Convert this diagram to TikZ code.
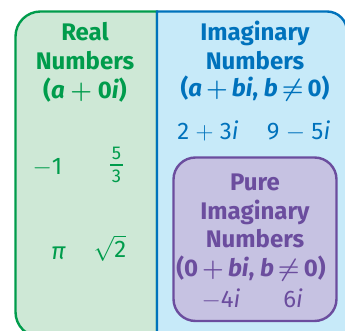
\documentclass[tikz,border=0pt]{standalone}
\usepackage{amsmath}
\usepackage{fontspec}
\setmainfont{Fira Sans}
\definecolor{realline}{RGB}{0,156,76}
\definecolor{realfill}{RGB}{206,232,214}
\definecolor{imagline}{RGB}{0,114,188}
\definecolor{imagfill}{RGB}{199,234,249}
\definecolor{pureline}{RGB}{107,77,158}
\definecolor{purefill}{RGB}{198,194,226}
\begin{document}
\begin{tikzpicture}[x=1pt,y=1pt,
    realbox/.style={draw=realline,fill=realfill,line width=2.4pt},
    imagbox/.style={draw=imagline,fill=imagfill,line width=2.4pt},
    purebox/.style={draw=pureline,fill=purefill,line width=2.4pt,rounded corners=22pt},
    head/.style={anchor=base,inner sep=0pt,font=\fontsize{24}{28}\selectfont\bfseries\boldmath},
    entry/.style={anchor=base,inner sep=0pt,font=\fontsize{24}{28}\selectfont},
    fracdigit/.style={anchor=base,inner sep=0pt,font=\fontsize{18.5}{20}\selectfont}
  ]
  \useasboundingbox (0,0) rectangle (345,331);
  \clip (0,0) rectangle (345,331);

  % BOXES
  % real numbers
  \draw[realbox] (157,319.5) -- (40.5,319.5)
    arc[start angle=90,end angle=180,radius=25] -- (15.5,19)
    arc[start angle=180,end angle=270,radius=25] -- (157,-6) -- cycle;
  % imaginary numbers
  \draw[imagbox] (157,-6) -- (157,319.5) -- (327,319.5)
    arc[start angle=90,end angle=0,radius=20] -- (347,-6) -- cycle;
  % pure imaginary numbers
  \draw[purebox] (173.5,10) rectangle (336.5,173.5);

  % REAL
  \node[head,text=realline] (real1) at (85,290) {Real};
  \node[head,text=realline] (real2) at (85,261) {Numbers};
  \node[head,text=realline] (real3) at (85,232) {(\textit{a} $+$ 0\textit{i})};
  \node[entry,text=realline] (minusone) at (47.5,156) {$-$1};
  % five thirds
  \node[fracdigit,text=realline] (five) at (116.5,171) {5};
  \node[fracdigit,text=realline] (three) at (116.5,148) {3};
  \draw[realline,line width=1.4pt] (110,166) -- (123,166);
  \node[entry,text=realline] (pi) at (58.5,71) {\textit{π}};
  \node[entry,text=realline] (roottwo) at (110,73) {$\sqrt{\text{2}}$};

  % IMAGINARY
  \node[head,text=imagline] (imag1) at (255,290) {Imaginary};
  \node[head,text=imagline] (imag2) at (255,261) {Numbers};
  \node[head,text=imagline] (imag3) at (255,234)
    {(\textit{a}\,$+$\,\textit{bi}, \textit{b}\,$\neq$\,0)};
  \node[entry,text=imagline] (twothree) at (208,191) {2 $+$ 3\textit{i}};
  \node[entry,text=imagline] (ninefive) at (298.5,191) {9 $-$ 5\textit{i}};

  % PURE IMAGINARY
  \node[head,text=pureline] (pure1) at (255,140) {Pure};
  \node[head,text=pureline] (pure2) at (255,111) {Imaginary};
  \node[head,text=pureline] (pure3) at (255,83) {Numbers};
  \node[head,text=pureline] (pure4) at (251,54)
    {(0\,$+$\,\textit{bi}, \textit{b}\,$\neq$\,0)};
  \node[entry,text=pureline] (minusfour) at (221,23) {$-$4\textit{i}};
  \node[entry,text=pureline] (six) at (293,23) {6\textit{i}};
\end{tikzpicture}
\end{document}
